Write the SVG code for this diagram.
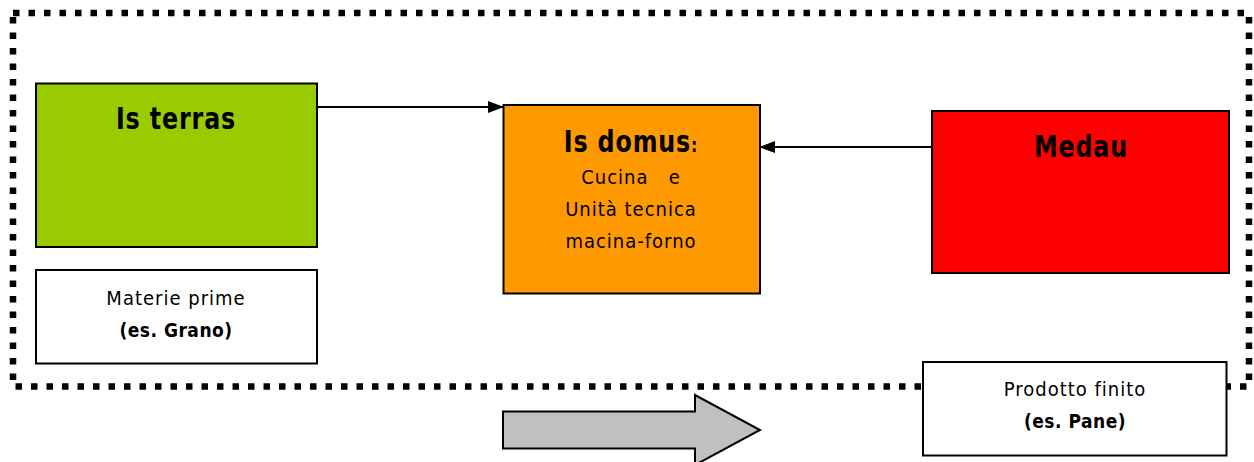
<svg xmlns="http://www.w3.org/2000/svg" width="1254" height="462" viewBox="0 0 1254 462">
<defs>
<marker id="ah" markerWidth="16" markerHeight="12" refX="15" refY="6" orient="auto" markerUnits="userSpaceOnUse">
<path d="M0,0 L16,6 L0,12 Z" fill="#000"/>
</marker>
<style>
.box{stroke:#000;stroke-width:2}
.t{font-family:"DejaVu Sans Condensed","DejaVu Sans",sans-serif;text-anchor:middle;fill:#000}
.h{font-size:30px;font-weight:bold;letter-spacing:1px}
.s{font-size:20px;font-weight:300;letter-spacing:1px}
.b{font-size:19px;font-weight:bold;letter-spacing:0.5px}
.conn{stroke:#000;stroke-width:2;fill:none}
</style>
</defs>
<rect width="1254" height="462" fill="#fff"/>
<rect id="frame" x="13" y="13" width="1236" height="373.5" fill="none" stroke="#000" stroke-width="6.5" stroke-dasharray="6.5 9"/>
<g id="connectors">
<line class="conn" x1="317" y1="107" x2="503" y2="107" marker-end="url(#ah)"/>
<line class="conn" x1="931" y1="147" x2="760" y2="147" marker-end="url(#ah)"/>
</g>
<g id="is-terras">
<rect class="box" x="36" y="83.5" width="281" height="163.5" fill="#99CC00"/>
<text class="t h" transform="translate(176 128.5) scale(0.88 1)">Is terras</text>
</g>
<g id="materie-prime">
<rect class="box" x="36" y="270" width="281" height="93.5" fill="#fff"/>
<text class="t s" x="176" y="305">Materie prime</text>
<text class="t b" x="176" y="337">(es. Grano)</text>
</g>
<g id="is-domus">
<rect class="box" x="503.5" y="105" width="256.5" height="188.5" fill="#FF9900"/>
<text class="t h" transform="translate(631 151.5) scale(0.88 1)">Is domus<tspan font-size="20px">:</tspan></text>
<text class="t s" x="631" y="183.5">Cucina&#160;&#160;&#160;e</text>
<text class="t s" x="631" y="216">Unità tecnica</text>
<text class="t s" x="631" y="248">macina-forno</text>
</g>
<g id="medau">
<rect class="box" x="932" y="111" width="297" height="162" fill="#FF0000"/>
<text class="t h" transform="translate(1081 157) scale(0.88 1)">Medau</text>
</g>
<g id="prodotto-finito">
<rect class="box" x="923" y="362" width="303.5" height="93.5" fill="#fff"/>
<text class="t s" x="1075" y="396">Prodotto finito</text>
<text class="t b" x="1075" y="428">(es. Pane)</text>
</g>
<g id="flow-arrow">
<path d="M503,411.5 L695,411.5 L695,395 L760,430 L695,465 L695,448.5 L503,448.5 Z" fill="#C0C0C0" stroke="#000" stroke-width="2"/>
</g>
</svg>
